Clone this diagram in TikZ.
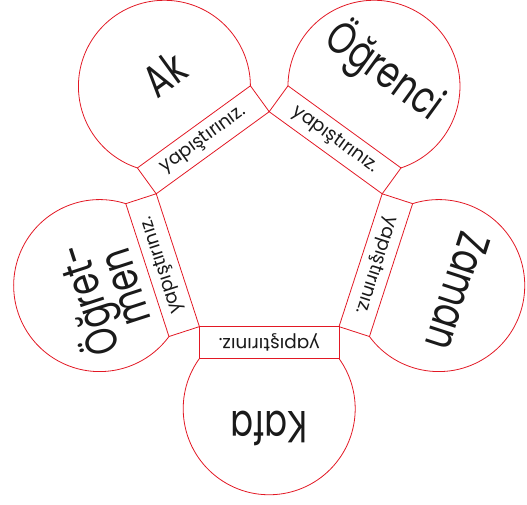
\documentclass[tikz,border=0pt]{standalone}
\usepackage{fontspec}
\setmainfont{Poppins}
\newfontfamily\bigfont[FakeStretch=0.75]{Poppins}
\definecolor{petalred}{RGB}{226,24,36}
\definecolor{ink}{RGB}{26,26,26}
\begin{document}
\begin{tikzpicture}[x=1pt,y=1pt,
  edge/.style={draw=petalred, line width=0.8pt, line join=miter},
  word/.style={font=\bigfont\fontsize{45}{36}\selectfont, text=ink, inner sep=0pt, align=center},
  glue/.style={font=\fontsize{18.5}{20}\selectfont, text=ink, inner sep=0pt}]
\useasboundingbox (-269.2,230.5) rectangle (257.8,-273.5);
% h = half side, a = apothem, d = tab depth, D = circle centre distance, r = radius
\def\h{69.85}\def\a{96.1}\def\d{32}\def\D{178.3}\def\r{86}\def\ang{35.68}
\foreach \k/\txt/\sx/\off in {0/Kafa/0/20, 1/Zaman/0/20, 2/Öğrenci/0/18, 3/Ak/7/10, 4/{Öğret-\\men}/-10/0}{
  \pgfmathsetmacro{\rot}{-180+72*\k}
  \begin{scope}[rotate=\rot]
    \draw[edge] (-\h,\a) rectangle (\h,\a+\d);
    \draw[edge] (\h,\a+\d) arc[start angle=-\ang, end angle=180+\ang, radius=\r];
    \node[glue, rotate=\rot] (tab\k) at (0,\a+\d/2) {yapıştırınız.};
    \node[word, rotate=\rot] (word\k) at (\sx,\D+\off) {\txt};
  \end{scope}
}
\end{tikzpicture}
\end{document}
